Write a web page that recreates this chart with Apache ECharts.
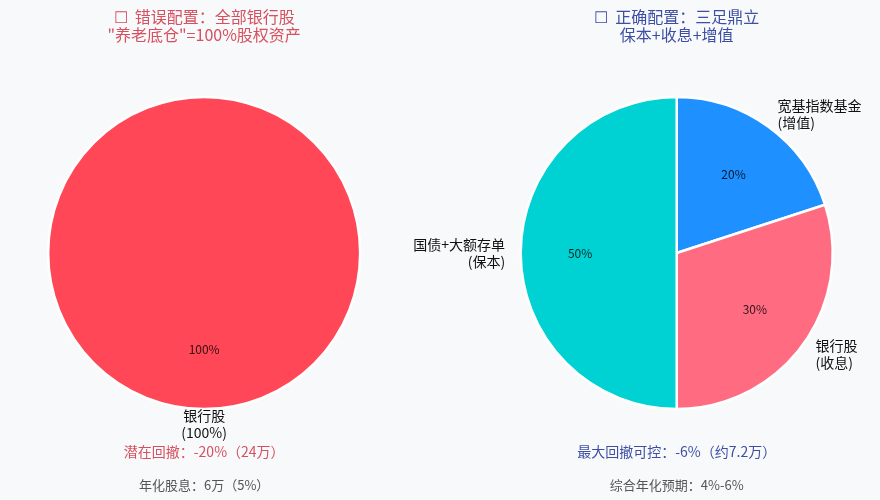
<!DOCTYPE html>
<html>
<head>
<meta charset="utf-8">
<script src="https://cdn.jsdelivr.net/npm/echarts@6/dist/echarts.min.js"></script>
<style>
html,body{margin:0;padding:0;background:#f8f9fa;}
#chart{width:880px;height:500px;}
</style>
</head>
<body>
<div id="chart"></div>
<script>
// ---- data ----
const leftNames = ['银行股'];
const leftTags = ['(100%)'];
const leftValues = [100];
const leftColors = ['#ff4757'];

const rightNames = ['宽基指数基金', '银行股', '国债+大额存单'];
const rightTags = ['(增值)', '(收息)', '(保本)'];
const rightValues = [20, 30, 50];
const rightColors = ['#1e90ff', '#ff6b81', '#00d2d3'];

const leftTitle = '☐  错误配置：全部银行股\n"养老底仓"=100%股权资产';
const rightTitle = '☐  正确配置：三足鼎立\n保本+收息+增值';
const leftNote1 = '潜在回撤：-20%（24万）';
const leftNote2 = '年化股息：6万（5%）';
const rightNote1 = '最大回撤可控：-6%（约7.2万）';
const rightNote2 = '综合年化预期：4%-6%';

const FONT = '"Noto Sans CJK SC", "Noto Sans", sans-serif';
const R = 156;
const leftCenter = ['23.2%', '50.6%'];
const rightCenter = ['76.9%', '50.6%'];
const RED_TEXT = '#d6505f';
const BLUE_TEXT = '#3d4fa5';

function mkData(names, tags, values, colors) {
  return names.map((n, i) => ({
    name: n, value: values[i], tag: tags[i],
    itemStyle: { color: colors[i] }
  }));
}

function pieMain(names, tags, values, colors, center, centerLabel) {
  const s = {
    type: 'pie',
    center: center,
    radius: [0, R],
    startAngle: 90,
    clockwise: true,
    avoidLabelOverlap: false,
    silent: true,
    itemStyle: { borderColor: '#ffffff', borderWidth: 2.5 },
    label: {
      show: true,
      position: 'outside',
      distanceToLabelLine: 0,
      fontFamily: FONT,
      fontSize: 14,
      lineHeight: 17,
      color: '#111',
      formatter: p => p.name + '\n' + p.data.tag
    },
    labelLine: { show: false, length: R * 0.1, length2: 0 },
    emphasis: { disabled: true },
    data: mkData(names, tags, values, colors)
  };
  if (centerLabel) s.labelLayout = () => ({ align: 'center' });
  return s;
}

function piePct(names, tags, values, center) {
  return {
    type: 'pie',
    center: center,
    radius: [R * 0.2, R],
    startAngle: 90,
    clockwise: true,
    avoidLabelOverlap: false,
    silent: true,
    z: 3,
    itemStyle: { color: 'rgba(0,0,0,0)', borderWidth: 0 },
    label: {
      show: true,
      position: 'inside',
      fontFamily: FONT,
      fontSize: 12,
      color: 'rgba(0,0,0,0.82)',
      formatter: '{c}%'
    },
    labelLine: { show: false },
    emphasis: { disabled: true },
    data: names.map((n, i) => ({ name: n, value: values[i] }))
  };
}

function note(text, left, top, size, lh, color) {
  return { text: text, left: left, top: top, textAlign: 'center', padding: 0,
    textStyle: { fontFamily: FONT, fontSize: size, fontWeight: 'normal', lineHeight: lh, color: color, align: 'center' } };
}

const chart = echarts.init(document.getElementById('chart'), null, { renderer: 'canvas' });
chart.setOption({
  backgroundColor: '#f8f9fa',
  animation: false,
  title: [
    note(leftTitle, '23.2%', 8, 16, 18, RED_TEXT),
    note(rightTitle, '76.9%', 8, 16, 18, BLUE_TEXT),
    note(leftNote1, '23.2%', 443, 14, 18, RED_TEXT),
    note(leftNote2, '23.2%', 477, 13, 16, '#555555'),
    note(rightNote1, '76.9%', 443, 14, 18, BLUE_TEXT),
    note(rightNote2, '76.9%', 477, 13, 16, '#555555')
  ],
  series: [
    pieMain(leftNames, leftTags, leftValues, leftColors, leftCenter, true),
    piePct(leftNames, leftTags, leftValues, leftCenter),
    pieMain(rightNames, rightTags, rightValues, rightColors, rightCenter, false),
    piePct(rightNames, rightTags, rightValues, rightCenter)
  ]
});
</script>
</body>
</html>
